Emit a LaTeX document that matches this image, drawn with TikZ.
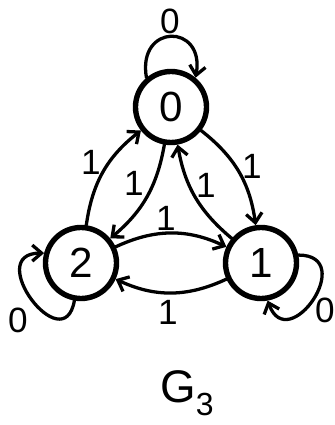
\documentclass[tikz,border=0pt]{standalone}
\usepackage{fontspec}
\setmainfont{Liberation Sans}
\usetikzlibrary{arrows.meta,positioning}

\begin{document}
\begin{tikzpicture}[x=0.03cm,y=0.03cm]
\tikzset{
  statenode/.style={circle,draw=black,line width=4.6pt,minimum size=21.3mm,inner sep=1pt,font=\fontsize{36}{40}\selectfont},
  transedge/.style={draw=black,line width=2.8pt,line cap=round,line join=round},
  directed/.style={transedge,-{Straight Barb[length=2.8mm,width=4.8mm]}},
  edgelabel/.style={inner sep=0pt,font=\fontsize{30}{32}\selectfont},
  titlelabel/.style={inner sep=0pt,font=\fontsize{39}{42}\selectfont}
}
\useasboundingbox (0,0) rectangle (334,425);
\node[statenode] (n_0) at (171,318) {0};
\node[statenode] (n_1) at (261,162) {1};
\node[statenode] (n_2) at (81,162) {2};
\draw[directed] (n_0.130) to[out=100,in=80,looseness=2.9] (n_0.50);
\draw[directed] (n_2.260) to[out=260,in=180,looseness=2.8] (n_2.165);
\draw[directed] (n_1.12) to[out=0,in=290,looseness=2.8] (n_1.280);
\draw[directed] (n_2) to[bend left=22] (n_0);
\draw[directed] (n_0) to[bend left=20] (n_2);
\draw[directed] (n_0) to[bend left=22] (n_1);
\draw[directed] (n_1) to[bend left=20] (n_0);
\draw[directed] (n_2) to[bend left=25] (n_1);
\draw[directed] (n_1) to[bend left=25] (n_2);
\node[edgelabel] (l_00) at (170,404) {0};
\node[edgelabel] (l_22) at (18,105) {0};
\node[edgelabel] (l_11) at (325,115) {0};
\node[edgelabel] (l_20) at (91,263) {1};
\node[edgelabel] (l_02) at (134,242) {1};
\node[edgelabel] (l_01) at (252,259) {1};
\node[edgelabel] (l_10) at (206,240) {1};
\node[edgelabel] (l_21) at (166,207) {1};
\node[edgelabel] (l_12) at (168,113) {1};
\node[titlelabel,anchor=base west] (g_3) at (160,22) {G\textsubscript{3}};
\end{tikzpicture}
\end{document}
